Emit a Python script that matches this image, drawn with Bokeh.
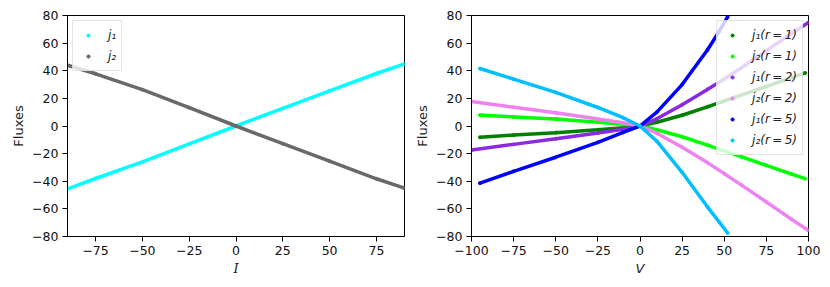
from bokeh.plotting import figure
from bokeh.layouts import row
from bokeh.models import FixedTicker, Legend, LegendItem, Range1d
from bokeh.embed import file_html
from bokeh.resources import INLINE

# ---------------- data ----------------
# left panel
I_vals = [-90, -75, -50, -25, 0, 25, 50, 75, 90]
j1_left = [-45.5, -38.0, -26.0, -13.0, 0.0, 12.8, 25.5, 38.0, 45.0]
j2_left = [44.0, 37.8, 26.3, 13.3, 0.0, -12.8, -25.5, -38.2, -45.0]

# right panel
V_r1 = [-95, -75, -50, -25, -10, 0, 10, 25, 40, 50, 60, 75, 90, 98]
j1_r1 = [-8.2, -6.6, -4.8, -2.7, -1.2, 0.0, 2.7, 7.8, 13.9, 18.1, 22.3, 28.6, 35.0, 38.4]
j2_r1 = [7.9, 6.6, 5.0, 2.7, 1.2, 0.0, -2.7, -7.8, -13.8, -18.0, -22.2, -28.5, -34.8, -38.1]

V_r2 = [-100, -75, -50, -25, -10, 0, 10, 25, 40, 50, 60, 75, 90, 100]
j1_r2 = [-17.3, -13.3, -9.3, -5.0, -2.3, 0.0, 5.2, 15.4, 26.5, 34.0, 42.0, 54.5, 67.0, 75.0]
j2_r2 = [17.8, 13.6, 9.6, 5.0, 2.3, 0.0, -5.2, -15.4, -26.5, -34.5, -42.6, -55.0, -67.6, -75.6]

V_r5 = [-95, -75, -50, -25, -10, 0, 10, 25, 40, 47, 52]
j1_r5 = [-41.4, -32.8, -22.6, -11.8, -4.6, 0.0, 10.0, 30.0, 55.0, 68.5, 79.0]
j2_r5 = [41.6, 33.9, 24.3, 13.4, 6.0, 0.0, -11.0, -33.5, -58.5, -69.5, -77.5]

y_ticks = [-80, -60, -40, -20, 0, 20, 40, 60, 80]
y_labels = ["\u221280", "\u221260", "\u221240", "\u221220", "0", "20", "40", "60", "80"]
xl_ticks = [-75, -50, -25, 0, 25, 50, 75]
xl_labels = ["\u221275", "\u221250", "\u221225", "0", "25", "50", "75"]
xr_ticks = [-100, -75, -50, -25, 0, 25, 50, 75, 100]
xr_labels = ["\u2212100", "\u221275", "\u221250", "\u221225", "0", "25", "50", "75", "100"]

FONT = "DejaVu Sans"
TS = "\u2009"  # thin space


def make_fig(width, xr, xticks, xlabels, xlabel, border_left, border_right):
    p = figure(width=width, height=280, x_range=Range1d(*xr), y_range=Range1d(-80, 80),
               output_backend="svg", toolbar_location=None,
               min_border_left=border_left, min_border_top=15, min_border_bottom=44,
               min_border_right=border_right)
    p.grid.visible = False
    p.outline_line_color = "black"
    p.outline_line_alpha = 1
    p.outline_line_width = 1
    p.background_fill_color = "white"
    p.border_fill_color = "white"
    p.xaxis.ticker = FixedTicker(ticks=xticks)
    p.xaxis.major_label_overrides = {t: l for t, l in zip(xticks, xlabels)}
    p.yaxis.ticker = FixedTicker(ticks=y_ticks)
    p.yaxis.major_label_overrides = {t: l for t, l in zip(y_ticks, y_labels)}
    for ax in (p.xaxis[0], p.yaxis[0]):
        ax.axis_line_color = "black"
        ax.major_tick_line_color = "black"
        ax.major_tick_out = 5
        ax.major_tick_in = 0
        ax.minor_tick_line_color = None
        ax.major_label_text_font = FONT
        ax.major_label_text_font_size = "12.5px"
        ax.major_label_text_color = "#111111"
        ax.major_label_standoff = 4
        ax.axis_label_text_font = FONT
        ax.axis_label_text_font_size = "13px"
        ax.axis_label_text_color = "#222222"
        ax.axis_label_standoff = 3
    p.xaxis.axis_label = xlabel
    p.xaxis.axis_label_text_font_style = "italic"
    p.yaxis.axis_label = "Fluxes"
    p.yaxis.axis_label_text_font_style = "normal"
    return p


def styled_legend(items, location):
    lg = Legend(items=items, location=location)
    lg.margin = 5
    lg.padding = 5
    lg.spacing = 3
    lg.glyph_width = 20
    lg.glyph_height = 8
    lg.label_height = 18
    lg.label_width = 0
    lg.label_standoff = 10
    lg.border_line_color = "#cccccc"
    lg.border_line_width = 1
    lg.background_fill_alpha = 0.8
    lg.label_text_font = FONT
    lg.label_text_font_size = "12px"
    lg.label_text_font_style = "italic"
    lg.label_text_color = "#222222"
    return lg


# ---------------- left panel ----------------
p1 = make_fig(412, (-90, 90), xl_ticks, xl_labels, "I", 67, 8)
p1.xaxis.axis_label_text_font = "DejaVu Serif"
left_series = [(j1_left, "#00ffff", "j\u2081"), (j2_left, "#696969", "j\u2082")]
items1 = []
for ys, col, lab in left_series:
    s = p1.scatter(I_vals, ys, size=3, color=col)
    p1.line(I_vals, ys, line_width=3.5, color=col)
    items1.append(LegendItem(label=lab, renderers=[s]))
p1.add_layout(styled_legend(items1, "top_left"))

# ---------------- right panel ----------------
p2 = make_fig(414, (-100, 100), xr_ticks, xr_labels, "V", 59, 18)
right_series = [
    (V_r1, j1_r1, "#008000", "j\u2081(r" + TS + "=" + TS + "1)"),
    (V_r1, j2_r1, "#00ff00", "j\u2082(r" + TS + "=" + TS + "1)"),
    (V_r2, j1_r2, "#8a2be2", "j\u2081(r" + TS + "=" + TS + "2)"),
    (V_r2, j2_r2, "#ee82ee", "j\u2082(r" + TS + "=" + TS + "2)"),
    (V_r5, j1_r5, "#0000ff", "j\u2081(r" + TS + "=" + TS + "5)"),
    (V_r5, j2_r5, "#00bfff", "j\u2082(r" + TS + "=" + TS + "5)"),
]
items2 = []
for xs, ys, col, lab in right_series:
    s = p2.scatter(xs, ys, size=3, color=col)
    p2.line(xs, ys, line_width=3.5, color=col)
    items2.append(LegendItem(label=lab, renderers=[s]))
p2.add_layout(styled_legend(items2, "top_right"))

layout = row(p1, p2)
open("out.html", "w").write(file_html(layout, INLINE))
